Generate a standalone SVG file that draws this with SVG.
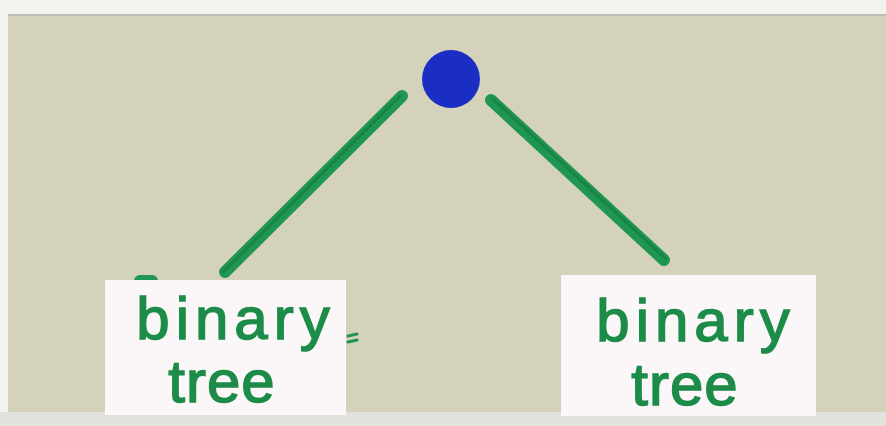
<svg xmlns="http://www.w3.org/2000/svg" width="886" height="426" viewBox="0 0 886 426">
<style>
.card{fill:#fbf7f8}
.edge{stroke:#1f9652;stroke-width:12;stroke-linecap:round;fill:none}
.edge2{stroke:#157a3e;stroke-width:3;stroke-linecap:round;fill:none;opacity:0.6}
.lbl{font-family:"Liberation Sans","DejaVu Sans",sans-serif;font-size:60px;fill:#1c8c48;stroke:#1c8c48;stroke-width:1.5;text-anchor:middle}
.w1{letter-spacing:6px}
.w2{letter-spacing:1px}
</style>
<rect x="0" y="0" width="886" height="426" fill="#f2f2ee"/>
<rect x="8" y="15" width="878" height="397" fill="#d5d2bc"/>
<line x1="8" y1="15" x2="886" y2="15" stroke="#bdbcb2" stroke-width="2"/>
<rect x="0" y="412" width="886" height="14" fill="#e2e2dc"/>
<g id="connectors">
<line class="edge" x1="402" y1="96" x2="225" y2="272"/>
<line class="edge2" x1="400" y1="96" x2="223" y2="272"/>
<line class="edge" x1="491" y1="100" x2="664" y2="260"/>
<line class="edge2" x1="493" y1="99" x2="666" y2="259"/>
<line class="edge" x1="140" y1="281" x2="152" y2="281"/>
<line x1="348" y1="336" x2="357" y2="334" stroke="#1f9652" stroke-width="3" stroke-linecap="round"/>
<line x1="348" y1="342" x2="357" y2="340" stroke="#1f9652" stroke-width="3" stroke-linecap="round"/>
</g>
<g id="root">
<circle cx="451" cy="79" r="29" fill="#1a2ec4"/>
</g>
<g id="left-child">
<rect class="card" x="105" y="280" width="241" height="135"/>
<text class="lbl w1" x="236" y="339">binary</text>
<text class="lbl w2" x="222" y="402">tree</text>
</g>
<g id="right-child">
<rect class="card" x="561" y="275" width="255" height="141"/>
<text class="lbl w1" x="696" y="341">binary</text>
<text class="lbl w2" x="685" y="405">tree</text>
</g>
</svg>
